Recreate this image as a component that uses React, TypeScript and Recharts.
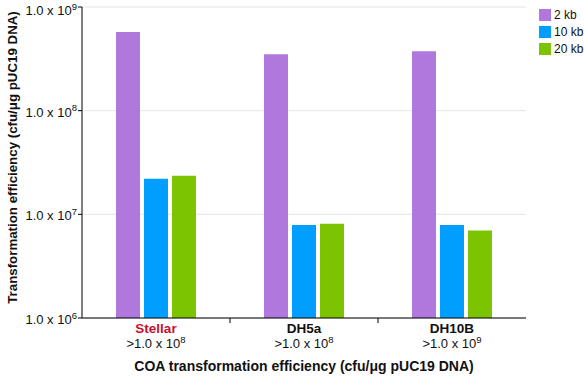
import React from "react";
import {
  BarChart,
  Bar,
  XAxis,
  YAxis,
  CartesianGrid,
  Legend,
} from "recharts";

const strains = ["Stellar", "DH5a", "DH10B"];
const coaExponents = ["8", "8", "9"];
const kb2 = [5.75e8, 3.5e8, 3.75e8];
const kb10 = [2.2e7, 7.9e6, 7.9e6];
const kb20 = [2.35e7, 8.1e6, 7.0e6];
const yTicks = [1e6, 1e7, 1e8, 1e9];

const seriesList = [
  { key: "kb2", name: "2 kb", color: "#B077DC" },
  { key: "kb10", name: "10 kb", color: "#009FFF" },
  { key: "kb20", name: "20 kb", color: "#7DC400" },
];

const data = strains.map((s, i) => ({
  strain: s,
  exp: coaExponents[i],
  kb2: kb2[i],
  kb10: kb10[i],
  kb20: kb20[i],
}));

const font = "'Liberation Sans', Arial, Helvetica, sans-serif";

const YTick = ({ x, y, payload }: any) => {
  const exp = Math.round(Math.log10(payload.value));
  return (
    <text x={x + 1} y={y + 6} textAnchor="end" fontSize={13} fill="#111" fontFamily={font}>
      1.0 x 10
      <tspan dy={-5.5} fontSize={9.5}>{exp}</tspan>
    </text>
  );
};

const XTick = ({ x, y, payload, index }: any) => {
  const half = payload.offset || 74;
  const row = data[index];
  return (
    <g>
      {index < data.length - 1 && (
        <line x1={x + half} x2={x + half} y1={y - 8} y2={y - 3} stroke="#000" />
      )}
      <text
        x={x}
        y={y + 7}
        textAnchor="middle"
        fontSize={13.5}
        fontWeight="bold"
        fill={index === 0 ? "#C8102E" : "#111"}
        fontFamily={font}
      >
        {payload.value}
      </text>
      <text x={x} y={y + 22} textAnchor="middle" fontSize={13} fill="#111" fontFamily={font}>
        &gt;1.0 x 10
        <tspan dy={-5.5} fontSize={9.5}>{row ? row.exp : ""}</tspan>
      </text>
    </g>
  );
};

const LegendBox = () => (
  <div style={{ fontFamily: font, fontSize: 12, color: "#111", paddingLeft: 13, paddingTop: 6 }}>
    {seriesList.map((s) => (
      <div key={s.key} style={{ display: "flex", alignItems: "center", height: 17 }}>
        <div style={{ width: 12, height: 12, background: s.color, marginRight: 3 }} />
        <span>{s.name}</span>
      </div>
    ))}
  </div>
);

const YLabel = ({ viewBox }: any) => {
  const cx = 12.5;
  const cy = viewBox.y + viewBox.height / 2 - 5;
  return (
    <text
      x={cx}
      y={cy}
      transform={`rotate(-90 ${cx} ${cy})`}
      textAnchor="middle"
      dominantBaseline="central"
      fontSize={13.3}
      fontWeight="bold"
      fill="#111"
      fontFamily={font}
    >
      Transformation efficiency (cfu/μg pUC19 DNA)
    </text>
  );
};

export default function App() {
  return (
    <div style={{ position: "absolute", left: 0, top: 0, background: "#fff" }}>
      <BarChart
        width={584}
        height={376}
        data={data}
        margin={{ top: 7, right: 0, bottom: 0, left: 0 }}
        barCategoryGap={34}
        barGap={4}
      >
        <CartesianGrid vertical={false} stroke="#e4e4e4" />
        <XAxis
          dataKey="strain"
          tickLine={false}
          axisLine={{ stroke: "#000" }}
          height={58}
          interval={0}
          tick={<XTick />}
          label={{
            value: "COA transformation efficiency (cfu/μg pUC19 DNA)",
            position: "insideBottom",
            offset: 5,
            fontSize: 14,
            fontWeight: "bold",
            fill: "#111",
            fontFamily: font,
          }}
        />
        <YAxis
          scale="log"
          domain={[1e6, 1e9]}
          ticks={yTicks}
          allowDataOverflow
          width={82}
          tickSize={4}
          tickLine={{ stroke: "#000" }}
          axisLine={{ stroke: "#000" }}
          tick={<YTick />}
          label={<YLabel />}
        />
        <Legend
          layout="vertical"
          align="right"
          verticalAlign="top"
          content={<LegendBox />}
          wrapperStyle={{ width: 58, top: 0, right: 0 }}
        />
        {seriesList.map((s) => (
          <Bar
            key={s.key}
            dataKey={s.key}
            name={s.name}
            fill={s.color}
            barSize={24}
            isAnimationActive={false}
          />
        ))}
      </BarChart>
    </div>
  );
}
